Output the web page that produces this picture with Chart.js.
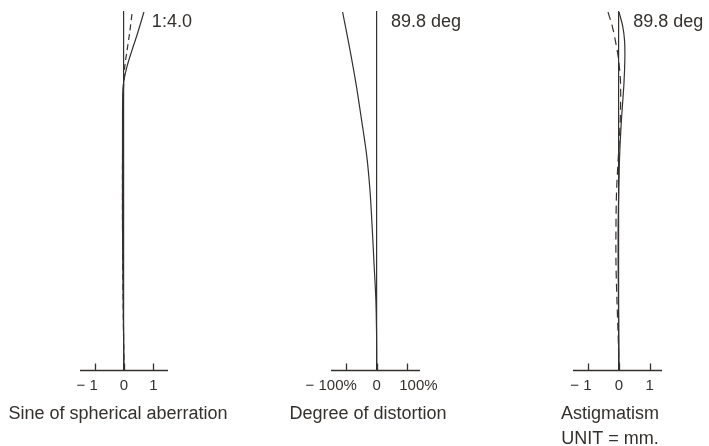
<!DOCTYPE html>
<html>
<head>
<meta charset="utf-8">
<script src="https://cdn.jsdelivr.net/npm/chart.js@4.4.1/dist/chart.umd.min.js"></script>
<style>
  html, body { margin: 0; padding: 0; background: #fff; overflow: hidden; }
  #wrap { position: relative; width: 709px; height: 446px; }
  canvas { position: absolute; top: 0; }
</style>
</head>
<body>
<div id="wrap">
  <canvas id="sph" width="236" height="470" style="left:0px"></canvas>
  <canvas id="dist" width="240" height="470" style="left:248px"></canvas>
  <canvas id="astig" width="198" height="470" style="left:511px"></canvas>
</div>
<script>
// relative field height (0 = axis, 1 = top of plot)
const sphField = [0, 0.2, 0.4, 0.6, 0.7, 0.78, 0.81, 0.85, 0.89, 0.94, 1.0];
const sphAberration = [0, -0.03, -0.05, -0.05, -0.05, -0.04, 0.0, 0.11, 0.26, 0.46, 0.68];
const sineCondition = [0, -0.03, -0.05, -0.05, -0.03, -0.02, 0.0, 0.03, 0.1, 0.19, 0.28];

const distField = [0, 0.1, 0.2, 0.3, 0.4, 0.5, 0.6, 0.7, 0.8, 0.9, 1.0];
const distPercent = [0, -0.5, -3, -9, -15, -22, -33, -50, -68, -89, -112];

const astField = [0, 0.1, 0.2, 0.3, 0.4, 0.5, 0.6, 0.7, 0.8, 0.87, 0.92, 0.96, 1.0];
const sagittal = [0, -0.01, -0.02, -0.03, -0.03, -0.01, 0.02, 0.08, 0.16, 0.19, 0.18, 0.12, 0.0];
const meridional = [0, -0.03, -0.07, -0.1, -0.1, -0.08, -0.02, 0.04, 0.05, -0.02, -0.12, -0.22, -0.36];

const sphTicks = [-1, 0, 1];
const sphTickLabels = ['\u2212 1\u2002\u2002', '0', '1'];
const distTicks = [-100, 0, 100];
const distTickLabels = ['\u2212 100%\u2002\u2002\u2002\u2002', '0', '\u2002\u2002\u2002100%'];
const astTicks = [-1, 0, 1];
const astTickLabels = ['\u2212 1\u2002\u2002', '0', '1'];

const ink = '#34302d';
const fontFam = '"Liberation Sans", Arial, sans-serif';

const pts = (ys, xs) => ys.map((y, i) => ({x: xs[i], y: y}));

// axis line between the axis ends, plus tick marks standing up from it
const axisLine = {
  id: 'axisLine',
  afterDatasetsDraw(chart, args, opts) {
    const {ctx, scales: {x}} = chart;
    const y0 = Math.round(x.top) + 0.5;
    ctx.save();
    ctx.strokeStyle = ink;
    ctx.lineWidth = 1.5;
    ctx.beginPath();
    ctx.moveTo(x.getPixelForValue(opts.from), y0);
    ctx.lineTo(x.getPixelForValue(opts.to), y0);
    ctx.stroke();
    ctx.lineWidth = 1.3;
    x.ticks.forEach(t => {
      const px = Math.round(x.getPixelForValue(t.value)) + 0.5;
      ctx.beginPath();
      ctx.moveTo(px, y0);
      ctx.lineTo(px, y0 - 7);
      ctx.stroke();
    });
    ctx.restore();
  }
};

const note = {
  id: 'note',
  afterDraw(chart, args, opts) {
    if (!opts.text) return;
    const {ctx, scales: {x, y}} = chart;
    ctx.save();
    ctx.fillStyle = ink;
    ctx.font = '18px ' + fontFam;
    ctx.textBaseline = 'alphabetic';
    ctx.fillText(opts.text, x.getPixelForValue(opts.at[0]), y.getPixelForValue(opts.at[1]));
    ctx.restore();
  }
};

function line(data, dash) {
  return {
    data: data,
    showLine: true,
    borderColor: ink,
    borderWidth: 1.2,
    borderDash: dash || [],
    pointRadius: 0,
    tension: 0.3,
    fill: false
  };
}

function panel(id, cfg) {
  const canvas = document.getElementById(id);
  // axis [from, to] spans pixels [p0, p1] of this canvas
  const u = (cfg.p1 - cfg.p0) / (cfg.to - cfg.from);
  const xMin = cfg.from - cfg.p0 / u;
  const xMax = cfg.from + (canvas.width - cfg.p0) / u;
  new Chart(canvas, {
    type: 'scatter',
    data: { datasets: cfg.datasets },
    plugins: [axisLine, note],
    options: {
      responsive: false,
      animation: false,
      layout: { padding: { top: 12, bottom: 0, left: 0, right: 0 } },
      plugins: {
        legend: { display: false },
        tooltip: { enabled: false },
        title: {
          display: true,
          position: 'bottom',
          text: cfg.title,
          color: ink,
          font: { family: fontFam, size: 18, weight: 'normal', lineHeight: 1.4 },
          padding: { top: 0, bottom: cfg.titlePad }
        },
        note: { text: cfg.note, at: cfg.noteAt },
        axisLine: { from: cfg.from, to: cfg.to }
      },
      scales: {
        x: {
          type: 'linear',
          position: 'bottom',
          min: xMin,
          max: xMax,
          afterBuildTicks: s => { s.ticks = cfg.ticks.map(v => ({value: v})); },
          afterFit: s => { s.height = 32; },
          ticks: {
            autoSkip: false,
            maxRotation: 0,
            padding: 7,
            color: ink,
            font: { family: fontFam, size: 15 },
            callback: (v, i) => cfg.tickLabels[i]
          },
          grid: { display: false, drawTicks: false },
          border: { display: false }
        },
        y: {
          type: 'linear',
          position: { x: 0 },
          min: 0,
          max: 1,
          ticks: { display: false },
          grid: { display: false, drawTicks: false },
          border: { display: true, color: ink, width: 1.2 }
        }
      }
    }
  });
}

panel('sph', {
  datasets: [line(pts(sphField, sphAberration)), line(pts(sphField, sineCondition), [6, 4])],
  from: -1.5, to: 1.5, p0: 80, p1: 168,
  ticks: sphTicks, tickLabels: sphTickLabels,
  title: 'Sine of spherical aberration', titlePad: 43,
  note: '1:4.0', noteAt: [0.95, 0.958]
});

panel('dist', {
  datasets: [line(pts(distField, distPercent))],
  from: -150, to: 142, p0: 83, p1: 172,
  ticks: distTicks, tickLabels: distTickLabels,
  title: 'Degree of distortion', titlePad: 43,
  note: '89.8 deg', noteAt: [47, 0.958]
});

panel('astig', {
  datasets: [line(pts(astField, sagittal)), line(pts(astField, meridional), [8, 5])],
  from: -1.5, to: 1.4, p0: 62, p1: 151,
  ticks: astTicks, tickLabels: astTickLabels,
  title: ['Astigmatism', 'UNIT = mm.'], titlePad: 18,
  note: '89.8 deg', noteAt: [0.46, 0.958]
});
</script>
</body>
</html>
